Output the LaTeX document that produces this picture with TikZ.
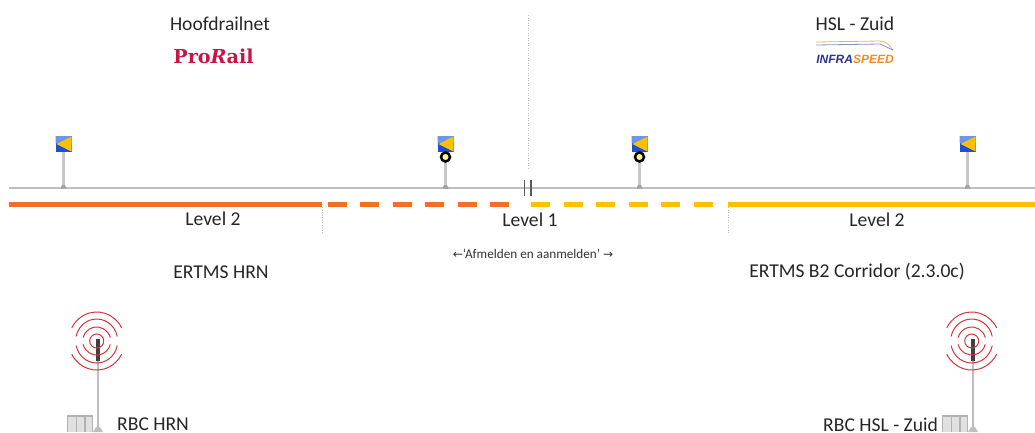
\documentclass[tikz,border=0pt]{standalone}
\usepackage{fontspec}
\setmainfont{Carlito}
\newfontfamily\arrowfont{DejaVu Sans}
\newfontfamily\slabfont{DejaVu Serif}
\newfontfamily\logofont{Liberation Sans}
\definecolor{trackgray}{RGB}{190,190,190}
\definecolor{polegray}{RGB}{200,200,200}
\definecolor{orangeL}{RGB}{240,113,38}
\definecolor{yellowL}{RGB}{255,192,0}
\definecolor{boardblue}{RGB}{28,78,216}
\definecolor{boardlight}{RGB}{110,150,230}
\definecolor{ringred}{RGB}{214,50,60}
\definecolor{proRed}{RGB}{200,20,70}
\definecolor{infraNavy}{RGB}{44,52,140}
\definecolor{infraOrange}{RGB}{240,140,40}
\tikzset{
  lbl/.style={inner sep=0pt,font=\fontsize{19.6}{22}\selectfont,text=black!85},
  small/.style={inner sep=0pt,font=\fontsize{13.2}{15}\selectfont,text=black!80},
  trackline/.style={draw=trackgray,line width=1.6pt},
  solidband/.style={line width=5pt},
  dashband/.style={line width=5pt,dash pattern=on 19.3pt off 13.2pt},
  guide/.style={draw=black!25,line width=0.7pt,dash pattern=on 1pt off 1.5pt},
  polestyle/.style={draw=polegray,line width=2.4pt},
  ringarc/.style={draw=ringred,line width=1pt},
  pics/signalboard/.style={code={
    \fill[boardblue] (-8,-8) rectangle (8,8);
    \fill[boardlight] (-8,-8) rectangle (8,-1) -- (-8,0) -- cycle;
    \fill[yellowL] (-7,0) -- (8,-7.5) -- (8,7.5) -- cycle;
  }},
  pics/mast/.style={code={
    \fill[black!30] (-31,74) rectangle (-5,91);
    \fill[black!12] (-30,75.5) rectangle (-22.5,91);
    \fill[black!12] (-21,75.5) rectangle (-14,91);
    \fill[black!12] (-12.5,75.5) rectangle (-6,91);
    \draw[draw=trackgray,line width=2.6pt] (0,0) -- (0,88);
    \fill[trackgray] (-5,91) -- (-2,86) -- (2,86) -- (5,91) -- cycle;
    \draw[draw=black!75,line width=3.6pt] (0,-2) -- (0,20);
    \begin{scope}[shift={(-1.3,0)},y=-1pt,x=1pt]
      \draw[ringarc] (0,0) circle[radius=7pt];
      \foreach \rx/\ry/\g in {14/14/14,21/22/12,28/29/27}{
        \draw[ringarc] (\g:\rx pt and \ry pt) arc[start angle=\g,end angle={180-\g},x radius=\rx pt,y radius=\ry pt];
        \draw[ringarc] ({180+\g}:\rx pt and \ry pt) arc[start angle={180+\g},end angle={360-\g},x radius=\rx pt,y radius=\ry pt];
      }
    \end{scope}
  }}
}
\begin{document}
\begin{tikzpicture}[x=1pt,y=-1pt]
\useasboundingbox (0,0) rectangle (1035,432);
% guides
\coordinate (gTop) at (528,15); \coordinate (gBot) at (528,170);
\coordinate (gL1) at (322,207); \coordinate (gL2) at (322,233);
\coordinate (gR1) at (728,207); \coordinate (gR2) at (728,233);
\draw[guide] (gTop) -- (gBot);
\draw[guide] (gL1) -- (gL2);
\draw[guide] (gR1) -- (gR2);
% track
\coordinate (tA) at (9,188); \coordinate (tB) at (1035,188);
\draw[trackline] (tA) -- (tB);
\coordinate (j1a) at (524.5,180); \coordinate (j1b) at (524.5,196);
\coordinate (j2a) at (531,180); \coordinate (j2b) at (531,196);
\draw[draw=black!65,line width=1.1pt] (j1a) -- (j1b);
\draw[draw=black!65,line width=1.1pt] (j2a) -- (j2b);
% level bands
\coordinate (o0) at (9,204); \coordinate (o1) at (322,204); \coordinate (o2) at (327.5,204); \coordinate (o3) at (513,204);
\coordinate (y0) at (531,204); \coordinate (y1) at (714,204); \coordinate (y2) at (728,204); \coordinate (y3) at (1035,204);
\draw[orangeL,solidband] (o0) -- (o1);
\draw[orangeL,dashband] (o2) -- (o3);
\draw[yellowL,dashband] (y0) -- (y1);
\draw[yellowL,solidband] (y2) -- (y3);
% signals
\foreach \n/\x in {s1/63.5,s2/445.5,s3/639.5,s4/967.5}{
  \coordinate (\n t) at (\x,150); \coordinate (\n b) at (\x,187);
  \draw[polestyle] (\n t) -- (\n b);
  \fill[trackgray!85!black] (\x-3,188.5) -- (\x-1.5,185) -- (\x+1.5,185) -- (\x+3,188.5) -- cycle;
  \pic at (\x,144) {signalboard};
}
\foreach \n/\x in {r2/445.5,r3/639.5}{
  \node[circle,draw=black,line width=2.5pt,fill=yellow!45,minimum size=9pt,inner sep=0pt] (\n) at (\x,157) {};
}
% headings
\node[lbl] (hA) at (220,24) {Hoofdrailnet};
\node[lbl] (hB) at (855,24) {HSL - Zuid};
\node[inner sep=0pt,text=proRed,font=\slabfont\bfseries\fontsize{19.2}{21}\selectfont] (logoA) at (213.5,56) {Pro\textit{R}ail};
\node[inner sep=0pt,font=\logofont\bfseries\itshape\fontsize{12}{14}\selectfont] (logoB) at (855,59.5) {\textcolor{infraNavy}{INFRA}\textcolor{infraOrange}{SPEED}};
\coordinate (sw1) at (816,42); \coordinate (sw2) at (880,41); \coordinate (sw3) at (893,50);
\coordinate (sw4) at (816,45); \coordinate (sw5) at (880,44);
\draw[infraOrange!70,line width=0.8pt] (sw1) -- (sw2) to[out=0,in=130] (sw3);
\draw[infraNavy!55,line width=0.8pt] (sw4) -- (sw5) -- (sw3);
% labels
\node[lbl] (lv1) at (213,219) {Level 2};
\node[lbl] (lv2) at (530,220) {Level 1};
\node[lbl] (lv3) at (877,220) {Level 2};
\node[small] (note) at (533,254) {{\arrowfont\fontsize{12}{14}\selectfont←}‘Afmelden en aanmelden’ {\arrowfont\fontsize{12}{14}\selectfont→}};
\node[lbl] (e1) at (221,272) {ERTMS HRN};
\node[lbl] (e2) at (857,272) {ERTMS B2 Corridor (2.3.0c)};
% masts
\pic at (98,341) {mast};
\pic at (973,341) {mast};
\node[lbl,anchor=west] (rbc1) at (117,424.5) {RBC HRN};
\node[lbl,anchor=west] (rbc2) at (823,424.5) {RBC HSL - Zuid};
\end{tikzpicture}
\end{document}
